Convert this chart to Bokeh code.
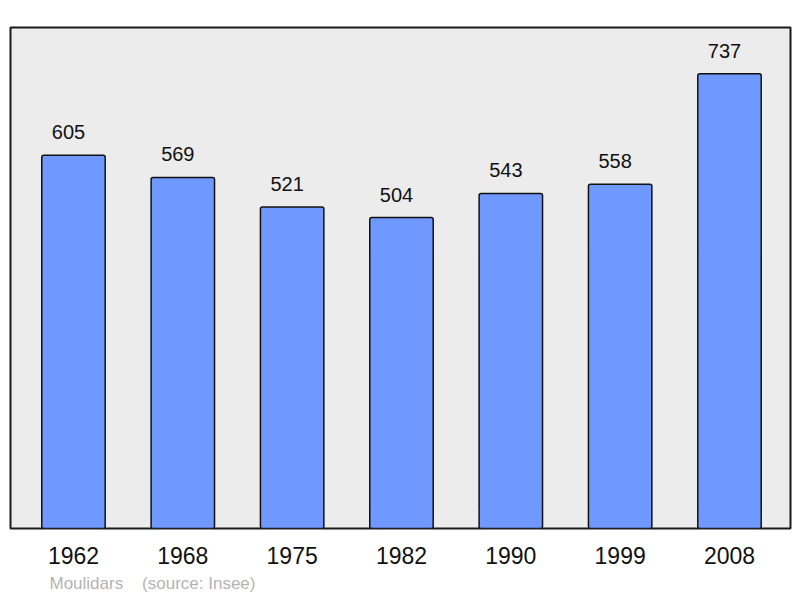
from bokeh.plotting import figure
from bokeh.models import ColumnDataSource, FixedTicker, Title, Range1d
from bokeh.core.properties import value
from bokeh.embed import file_html
from bokeh.resources import INLINE

years = ["1962", "1968", "1975", "1982", "1990", "1999", "2008"]
population = [605, 569, 521, 504, 543, 558, 737]
source_text = "Moulidars\u00a0\u00a0\u00a0\u00a0(source: Insee)"

xs = list(range(len(years)))
src = ColumnDataSource(dict(x=xs, top=population, label=[str(v) for v in population]))

p = figure(width=800, height=598, output_backend="svg", toolbar_location=None,
           x_range=Range1d(-0.576, 6.558), y_range=Range1d(0, 812),
           min_border_left=10, min_border_right=10, min_border_top=27, min_border_bottom=70,
           background_fill_color="#ececec", border_fill_color="white")
p.grid.visible = False
p.yaxis.visible = False
p.outline_line_color = "#1a1a1a"
p.outline_line_width = 2

p.vbar(x="x", top="top", width=0.58, source=src, fill_color="#7099ff",
       line_color="#111111", line_width=1.5, border_radius=2)
p.text(x="x", y="top", text="label", source=src, text_align="center",
       text_baseline="alphabetic", x_offset=-5, y_offset=-23, text_font_size="20px",
       text_font=value("Liberation Sans"), text_color="#111111")

ax = p.xaxis[0]
ax.ticker = FixedTicker(ticks=xs)
ax.major_label_overrides = {i: y for i, y in enumerate(years)}
ax.axis_line_color = None
ax.major_tick_line_color = None
ax.minor_tick_line_color = None
ax.major_tick_out = 0
ax.major_tick_in = 0
ax.major_label_standoff = 18
ax.major_label_text_font = "Liberation Sans"
ax.major_label_text_font_size = "23px"
ax.major_label_text_color = "#111111"

t = Title(text=source_text, align="left", text_font="Liberation Sans",
          text_font_size="17px", text_font_style="normal", text_color="#b4b4b4",
          offset=39, standoff=11)
p.add_layout(t, "below")

open("out.html", "w").write(file_html(p, INLINE))
